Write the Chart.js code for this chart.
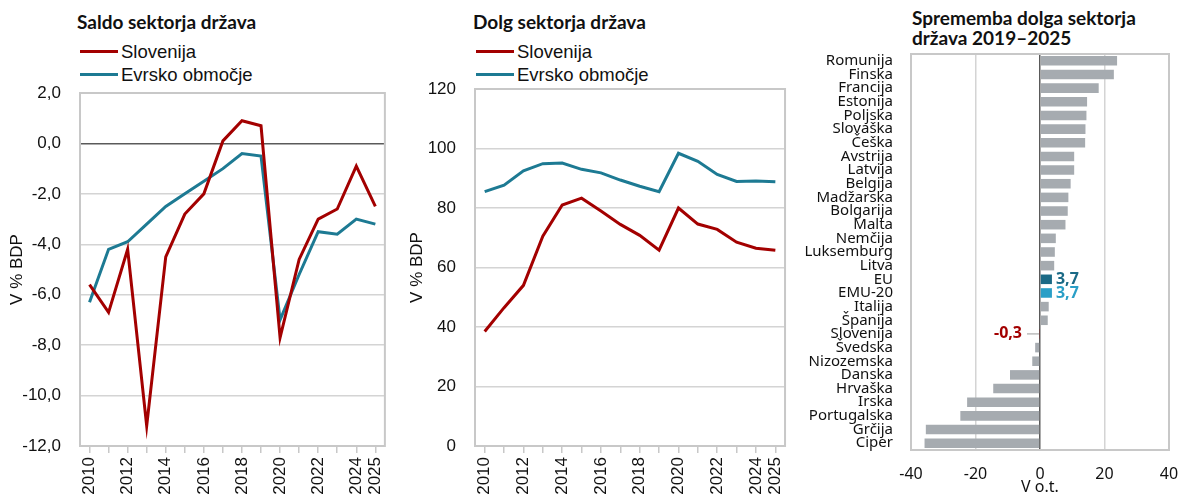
<!DOCTYPE html>
<html>
<head>
<meta charset="utf-8">
<script src="https://cdn.jsdelivr.net/npm/chart.js@4/dist/chart.umd.min.js"></script>
<style>
  body { margin: 0; background: #fff; width: 1185px; height: 497px; overflow: hidden; position: relative; font-family: "Liberation Sans", Arial, sans-serif; }
  canvas { position: absolute; top: 0; }
  .title { position: absolute; font-family: Lato, sans-serif; font-weight: bold; font-size: 19px; line-height: 20px; color: #111; white-space: nowrap; }
  .legend { position: absolute; font-size: 18.5px; color: #111; }
  .legend div { display: flex; align-items: center; height: 23px; }
  .legend .swatch { display: inline-block; width: 38px; height: 3px; margin-right: 3px; }
</style>
</head>
<body>
<div class="title" style="left:77px; top:12px;">Saldo sektorja država</div>
<div class="legend" id="legend-saldo" style="left:80px; top:40px;"></div>
<canvas id="saldo" width="400" height="497" style="left:0px;"></canvas>

<div class="title" style="left:473px; top:12px;">Dolg sektorja država</div>
<div class="legend" id="legend-dolg" style="left:476px; top:40px;"></div>
<canvas id="dolg" width="400" height="497" style="left:400px;"></canvas>

<div class="title" style="left:912px; top:8px;">Sprememba dolga sektorja<br>država 2019–2025</div>
<canvas id="sprememba" width="385" height="497" style="left:800px;"></canvas>

<script>
// Years shown on both line charts.
const years = ['2010', '2011', '2012', '2013', '2014', '2015', '2016', '2017',
               '2018', '2019', '2020', '2021', '2022', '2023', '2024', '2025'];

// General government balance, % of GDP.
const saldoSlovenija = [-5.6, -6.7, -4.2, -11.2, -4.5, -2.8, -2.0, 0.1, 0.9, 0.7, -7.7, -4.6, -3.0, -2.6, -0.9, -2.5];
const saldoEvro      = [-6.3, -4.2, -3.9, -3.2, -2.5, -2.0, -1.5, -1.0, -0.4, -0.5, -7.0, -5.2, -3.5, -3.6, -3.0, -3.2];
const saldoTicks     = [-12, -10, -8, -6, -4, -2, 0, 2];

// General government debt, % of GDP.
const dolgSlovenija = [38.5, 46.5, 54.0, 70.5, 81.0, 83.3, 79.0, 74.5, 70.8, 65.8, 80.0, 74.6, 72.8, 68.5, 66.5, 65.8];
const dolgEvro      = [85.5, 87.7, 92.5, 94.9, 95.1, 93.0, 91.8, 89.4, 87.3, 85.5, 98.4, 95.7, 91.3, 88.9, 89.1, 88.8];
const dolgTicks     = [0, 20, 40, 60, 80, 100, 120];

// Change in government debt 2019-2025, percentage points.
const drzave = ['Romunija', 'Finska', 'Francija', 'Estonija', 'Poljska', 'Slovaška', 'Češka', 'Avstrija',
                'Latvija', 'Belgija', 'Madžarska', 'Bolgarija', 'Malta', 'Nemčija', 'Luksemburg', 'Litva',
                'EU', 'EMU-20', 'Italija', 'Španija', 'Slovenija', 'Švedska', 'Nizozemska', 'Danska',
                'Hrvaška', 'Irska', 'Portugalska', 'Grčija', 'Ciper'];
const spremembaDolga = [23.9, 22.9, 18.2, 14.6, 14.4, 14.1, 14.0, 10.6,
                        10.6, 9.5, 8.8, 8.6, 7.9, 4.9, 4.6, 4.4,
                        3.7, 3.7, 2.7, 2.4, -0.3, -1.5, -2.4, -9.3,
                        -14.5, -22.6, -24.7, -35.4, -35.8];
const spremembaTicks = [-40, -20, 0, 20, 40];
// Bars that get a value label next to them.
const oznaceni = ['EU', 'EMU-20', 'Slovenija'];

const RED = '#a30000';
const TEAL = '#1d7a93';
const GRID = '#d4d4d4';
const AXIS = '#5a5a5a';
const BAR_GREY = '#a6abb0';
const EU_COLOR = '#1b6a86';
const EMU_COLOR = '#2a9fc7';

const tickFont = { family: '"Liberation Sans", Arial, sans-serif', size: 17 };

function comma(v, digits) {
  return v.toFixed(digits).replace('.', ',');
}

// Grey frame round the plot area.
const plotFrame = {
  id: 'plotFrame',
  beforeDatasetsDraw(chart) {
    const a = chart.chartArea;
    const ctx = chart.ctx;
    ctx.save();
    ctx.strokeStyle = '#c8c8c8';
    ctx.lineWidth = 2;
    ctx.strokeRect(a.left, a.top, a.right - a.left, a.bottom - a.top);
    ctx.restore();
  }
};

// Builds the two line legend above a line chart from its datasets.
function buildLegend(chart, id) {
  const box = document.getElementById(id);
  chart.data.datasets.forEach(ds => {
    const row = document.createElement('div');
    const sw = document.createElement('span');
    sw.className = 'swatch';
    sw.style.background = ds.borderColor;
    row.appendChild(sw);
    row.appendChild(document.createTextNode(ds.label));
    box.appendChild(row);
  });
}

function lineChart(canvasId, legendId, sloData, evroData, ticks, digits, yWidth, topPad) {
  const chart = new Chart(document.getElementById(canvasId), {
    type: 'line',
    data: {
      labels: years,
      datasets: [
        { label: 'Slovenija', data: sloData, borderColor: RED, borderWidth: 3, pointRadius: 0, tension: 0 },
        { label: 'Evrsko območje', data: evroData, borderColor: TEAL, borderWidth: 3, pointRadius: 0, tension: 0 }
      ]
    },
    options: {
      responsive: false,
      animation: false,
      layout: { padding: { top: topPad, right: 8, left: 0, bottom: 0 } },
      plugins: { legend: { display: false }, tooltip: { enabled: false } },
      scales: {
        x: {
          type: 'category',
          offset: true,
          grid: { drawOnChartArea: false, drawTicks: true, tickLength: 7, color: '#c8c8c8', lineWidth: 1.5, offset: false },
          border: { display: false },
          ticks: {
            autoSkip: false, minRotation: 90, maxRotation: 90, padding: 4,
            color: '#111', font: tickFont,
            callback: function (value) {
              const y = this.getLabelForValue(value);
              return (Number(y) % 2 === 0 || y === '2025') ? y : '';
            }
          },
          afterFit: scale => { scale.height = 51; }
        },
        y: {
          min: ticks[0], max: ticks[ticks.length - 1],
          afterBuildTicks: scale => { scale.ticks = ticks.map(v => ({ value: v })); },
          grid: {
            drawTicks: false, lineWidth: 1.5,
            color: ctx => (ctx.tick && ctx.tick.value === 0 && ticks[0] < 0) ? AXIS : GRID
          },
          border: { display: false },
          ticks: { color: '#111', font: tickFont, padding: 19, callback: v => comma(v, digits) },
          title: { display: true, text: 'V % BDP', color: '#111', font: { family: tickFont.family, size: 17 }, padding: { top: 7, bottom: 0 } },
          afterFit: scale => { scale.width = yWidth; }
        }
      }
    },
    plugins: [plotFrame]
  });
  buildLegend(chart, legendId);
  return chart;
}

lineChart('saldo', 'legend-saldo', saldoSlovenija, saldoEvro, saldoTicks, 1, 80, 93);
lineChart('dolg', 'legend-dolg', dolgSlovenija, dolgEvro, dolgTicks, 0, 75, 89);

// Value labels for EU, EMU-20 and Slovenia bars.
const barLabels = {
  id: 'barLabels',
  afterDatasetsDraw(chart) {
    const ctx = chart.ctx;
    const xs = chart.scales.x;
    const ys = chart.scales.y;
    const colors = chart.data.datasets[0].backgroundColor;
    ctx.save();
    ctx.font = 'bold 16px "Noto Sans", sans-serif';
    ctx.textBaseline = 'middle';
    oznaceni.forEach(name => {
      const i = drzave.indexOf(name);
      const v = spremembaDolga[i];
      const y = ys.getPixelForValue(i);
      const text = comma(v, 1);
      ctx.fillStyle = colors[i];
      if (v >= 0) {
        ctx.textAlign = 'left';
        ctx.fillText(text, xs.getPixelForValue(v) + 4, y);
      } else {
        const x0 = xs.getPixelForValue(0);
        ctx.strokeStyle = '#9a9a9a';
        ctx.lineWidth = 1;
        ctx.beginPath();
        ctx.moveTo(x0 - 13, y);
        ctx.lineTo(xs.getPixelForValue(v), y);
        ctx.stroke();
        ctx.textAlign = 'right';
        ctx.fillText(text, x0 - 18, y);
      }
    });
    ctx.restore();
  }
};

const barColors = drzave.map(d => d === 'EU' ? EU_COLOR : d === 'EMU-20' ? EMU_COLOR : d === 'Slovenija' ? RED : BAR_GREY);

new Chart(document.getElementById('sprememba'), {
  type: 'bar',
  data: {
    labels: drzave,
    datasets: [{ data: spremembaDolga, backgroundColor: barColors, categoryPercentage: 1, barPercentage: 0.7 }]
  },
  options: {
    indexAxis: 'y',
    responsive: false,
    animation: false,
    layout: { padding: { top: 54, right: 16, left: 0, bottom: 0 } },
    plugins: { legend: { display: false }, tooltip: { enabled: false } },
    scales: {
      y: {
        grid: { display: false },
        border: { display: false },
        ticks: { autoSkip: false, color: '#111', padding: 10, font: { family: '"Noto Sans", sans-serif', size: 15 } },
        afterFit: scale => { scale.width = 111; }
      },
      x: {
        min: -40, max: 40,
        afterBuildTicks: scale => { scale.ticks = spremembaTicks.map(v => ({ value: v })); },
        grid: { drawTicks: false, lineWidth: 1.5, color: ctx => (ctx.tick && ctx.tick.value === 0) ? AXIS : GRID },
        border: { display: false },
        ticks: { color: '#111', padding: 15, font: { family: '"Noto Sans", sans-serif', size: 16 } },
        title: { display: true, text: 'V o.t.', color: '#111', font: { family: '"Noto Sans", sans-serif', size: 16 }, padding: 0 },
        // Fixed height; the end labels may overhang the plot edges.
        afterFit: scale => { scale.height = 47; scale.paddingLeft = 0; scale.paddingRight = 0; }
      }
    }
  },
  plugins: [plotFrame, barLabels]
});
</script>
</body>
</html>
